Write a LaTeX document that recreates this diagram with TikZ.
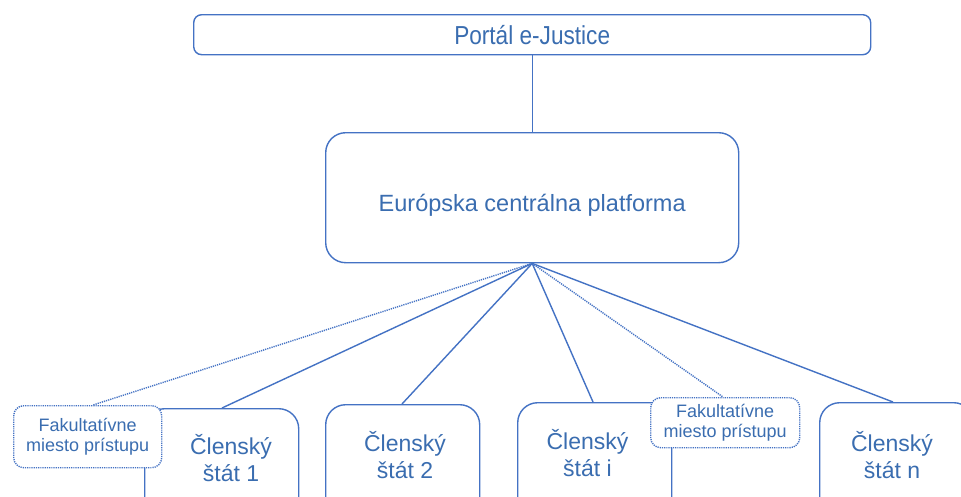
\documentclass[tikz,border=0pt]{standalone}
\usepackage{fontspec}
\setmainfont{Liberation Sans}
\newfontfamily\narrowsans[FakeStretch=0.87]{Liberation Sans}
\definecolor{ln}{HTML}{4472C4}
\definecolor{tx}{HTML}{3A6DB0}
\begin{document}
\begin{tikzpicture}[x=1pt,y=-1pt,
  box/.style={draw=ln, line width=1.4pt, fill=white, inner sep=0pt},
  member/.style={box, rounded corners=20pt, minimum width=154pt, minimum height=120pt, anchor=north west},
  opt/.style={box, dash pattern=on 1.2pt off 1pt, rounded corners=10pt, anchor=north west, text=tx, align=center, font=\fontsize{18}{20.5}\selectfont},
  mtext/.style={text=tx, align=center, font=\fontsize{23}{27}\selectfont, inner sep=0pt},
  link/.style={draw=ln, line width=1.4pt},
  optlink/.style={link, dash pattern=on 1.2pt off 1pt}]
\clip (0,0) rectangle (961,496);
\fill[white] (0,0) rectangle (961,496);
\node[box, rounded corners=8pt, minimum width=677pt, minimum height=40pt, anchor=north west, text=tx, font=\narrowsans\fontsize{26}{30}\selectfont] (portal) at (193,14) {Portál e-Justice};
\node[box, rounded corners=20pt, minimum width=413pt, minimum height=130pt, anchor=north west, text=tx, text height=29pt, text depth=2pt, font=\fontsize{23.5}{27}\selectfont] (cen) at (325,132) {Európska centrálna platforma};
\draw[link] (portal.south) -- (cen.north);
\node[member] (m1) at (144,408) {};
\node[member] (m2) at (325,404) {};
\node[member] (mi) at (517,402) {};
\node[member] (mn) at (819,402) {};
\node[mtext] (t1) at (231,458) {Členský\\štát 1};
\node[mtext] (t2) at (405,455) {Členský\\štát 2};
\node[mtext] (ti) at (587.5,453) {Členský\\štát i};
\node[mtext] (tn) at (892,455) {Členský\\štát n};
\draw[link] (cen.south) -- ([xshift=78pt]m1.north west);
\draw[link] (cen.south) -- ([xshift=77pt]m2.north west);
\draw[link] (cen.south) -- ([xshift=76pt]mi.north west);
\draw[link] (cen.south) -- ([xshift=74pt]mn.north west);
\node[opt, minimum width=148pt, minimum height=62pt] (o1) at (13,405) {Fakultatívne\\miesto prístupu};
\node[opt, minimum width=149pt, minimum height=50pt] (o2) at (650,397) {Fakultatívne\\miesto prístupu};
\draw[optlink] (cen.south) -- ([xshift=80pt]o1.north west);
\draw[optlink] (cen.south) -- ([xshift=73pt]o2.north west);
\end{tikzpicture}
\end{document}
